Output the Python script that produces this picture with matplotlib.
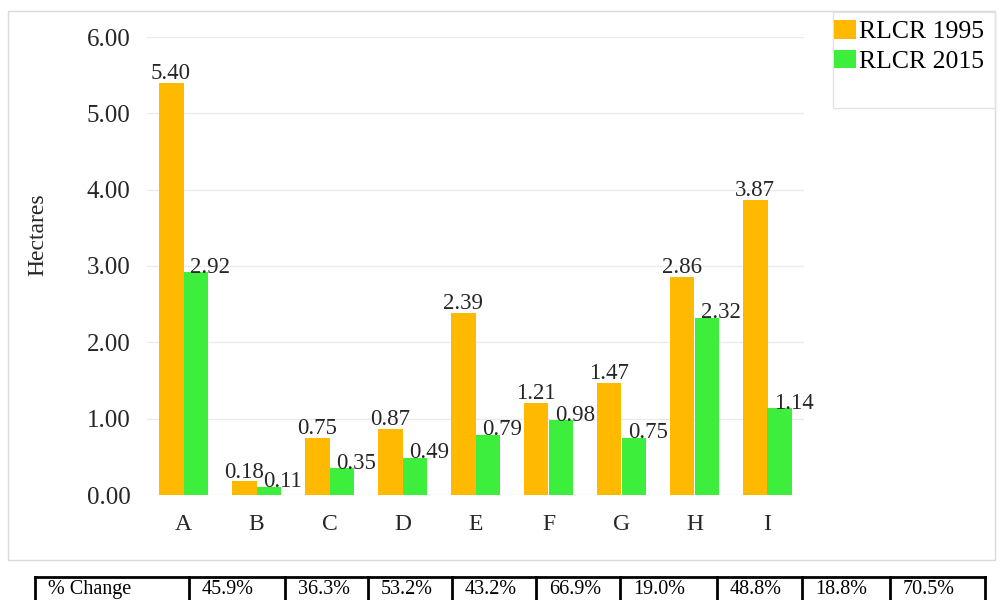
import numpy as np
import matplotlib
matplotlib.use("Agg")
import matplotlib.pyplot as plt
from matplotlib.patches import Rectangle, Patch
from matplotlib.lines import Line2D

plt.rcParams['font.family'] = ['Liberation Serif', 'DejaVu Serif']

sites = ['A', 'B', 'C', 'D', 'E', 'F', 'G', 'H', 'I']
rlcr_1995 = [5.40, 0.18, 0.75, 0.87, 2.39, 1.21, 1.47, 2.86, 3.87]
rlcr_2015 = [2.92, 0.11, 0.35, 0.49, 0.79, 0.98, 0.75, 2.32, 1.14]
series_names = ['RLCR 1995', 'RLCR 2015']
change_label = '% Change'
pct_change = ['45.9%', '36.3%', '53.2%', '43.2%', '66.9%', '19.0%', '48.8%', '18.8%', '70.5%']

ORANGE = '#FFBA00'
GREEN = '#3DEE3D'
W, H = 1001, 600


def fx(px):
    return px / W


def fy(py):
    # pixel row measured from the top
    return 1 - py / H


fig = plt.figure(figsize=(W / 100, H / 100), dpi=100)
fig.patch.set_facecolor('white')

# outer chart frame
fig.add_artist(Rectangle((fx(8), fy(560)), fx(987), 549 / H, transform=fig.transFigure,
                         fill=False, edgecolor='#DADADA', linewidth=1))

ax = fig.add_axes([fx(147), fy(495), fx(657), 458 / H])
x = np.arange(len(sites))
bw = 0.342
b1 = ax.bar(x - bw / 2, rlcr_1995, bw, color=ORANGE, zorder=2)
b2 = ax.bar(x + bw / 2, rlcr_2015, bw, color=GREEN, zorder=2)

for rect, v in zip(b1, rlcr_1995):
    ax.annotate('%.2f' % v, (rect.get_x() + rect.get_width() / 2, v), xytext=(0, -1),
                textcoords='offset points', ha='center', va='bottom', fontsize=16.5,
                color='#262626', annotation_clip=False)
for rect, v in zip(b2, rlcr_2015):
    ax.annotate('%.2f' % v, (rect.get_x() + rect.get_width() / 2, v), xytext=(10, -4),
                textcoords='offset points', ha='center', va='bottom', fontsize=16.5,
                color='#262626', annotation_clip=False)

ax.set_xlim(-0.5, len(sites) - 0.5)
ax.set_ylim(0, 6)
ax.set_yticks(range(7))
ax.set_yticklabels(['%.2f' % t for t in range(7)])
ax.set_xticks(x)
ax.set_xticklabels(sites)
ax.tick_params(axis='y', length=0, pad=12, labelsize=18, labelcolor='#262626')
ax.tick_params(axis='x', length=0, pad=14, labelsize=17, labelcolor='#262626')
ax.grid(axis='y', color='#EBEBEB', linewidth=1, zorder=0)
ax.set_axisbelow(True)
for s in ax.spines.values():
    s.set_visible(False)

fig.text(fx(38), fy(235), 'Hectares', rotation=90, ha='center', va='center',
         fontsize=17, color='#262626')

# legend box with two entries
fig.add_artist(Rectangle((fx(833), fy(108)), fx(162), 96 / H, transform=fig.transFigure,
                         fill=False, edgecolor='#E3E3E3', linewidth=1))
handles = [Patch(facecolor=ORANGE), Patch(facecolor=GREEN)]
fig.legend(handles, series_names, loc='upper left', bbox_to_anchor=(fx(826), fy(12)),
           frameon=False, fontsize=18.5, handlelength=0.85, handleheight=0.75,
           handletextpad=0.15, labelspacing=0.25, borderpad=0.3, borderaxespad=0)

# % change table under the chart
col_edges = [35, 189, 285, 368, 452, 536, 620, 717, 802, 890, 985]
lw = 2
fig.add_artist(Line2D([fx(col_edges[0]), fx(col_edges[-1])], [fy(577), fy(577)],
                      transform=fig.transFigure, color='black', linewidth=lw))
for e in col_edges:
    fig.add_artist(Line2D([fx(e), fx(e)], [fy(577), fy(605)],
                          transform=fig.transFigure, color='black', linewidth=lw))
cells = [change_label] + pct_change
for left, txt in zip(col_edges[:-1], cells):
    fig.text(fx(left + 13), fy(594), txt, ha='left', va='baseline', fontsize=14.5, color='black')

fig.savefig('out.png', dpi=100)
